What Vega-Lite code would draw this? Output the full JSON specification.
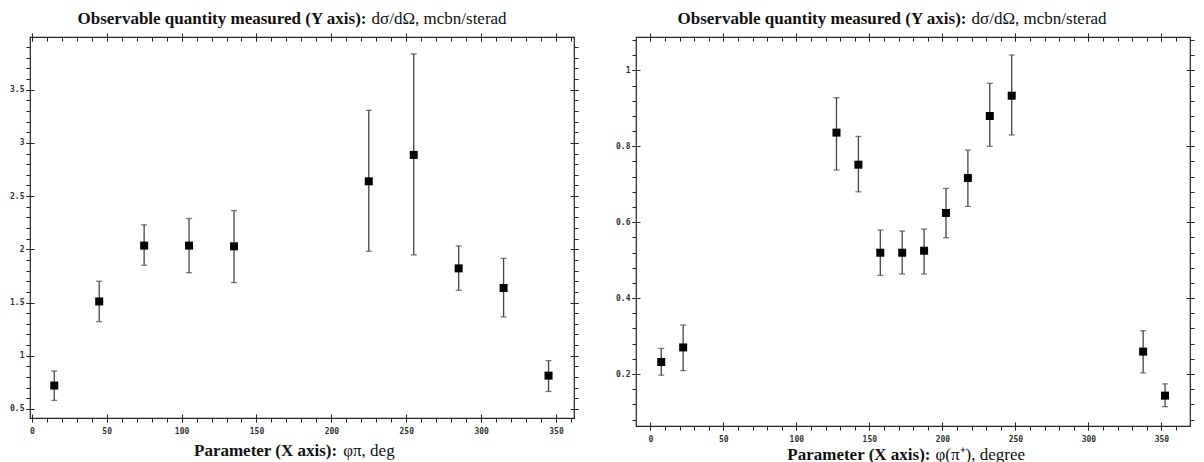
{
  "$schema": "https://vega.github.io/schema/vega-lite/v6.json",
  "padding": {"left": 8, "top": 8, "right": 5, "bottom": 0},
  "spacing": 34,
  "config": {
    "view": {"stroke": "#222", "strokeWidth": 1.2},
    "axis": {
      "grid": false,
      "domain": false,
      "labelFont": "DejaVu Sans Mono",
      "labelFontSize": 8,
      "labelFontWeight": "bold",
      "labelColor": "#333",
      "labelFlush": false,
      "labelOverlap": false,
      "tickColor": "#222",
      "tickWidth": 1,
      "titleFont": "Liberation Serif",
      "titleFontSize": 17,
      "titleColor": "#111"
    }
  },
  "hconcat": [
    {
      "width": 544,
      "height": 381,
      "data": {"values": [
        {"phi": 15, "ds": 0.72, "lo": 0.58, "hi": 0.857},
        {"phi": 45, "ds": 1.51, "lo": 1.32, "hi": 1.70},
        {"phi": 75, "ds": 2.035, "lo": 1.85, "hi": 2.23},
        {"phi": 105, "ds": 2.035, "lo": 1.78, "hi": 2.29},
        {"phi": 135, "ds": 2.028, "lo": 1.687, "hi": 2.364},
        {"phi": 225, "ds": 2.639, "lo": 1.981, "hi": 3.306},
        {"phi": 255, "ds": 2.887, "lo": 1.947, "hi": 3.836},
        {"phi": 285, "ds": 1.821, "lo": 1.615, "hi": 2.032},
        {"phi": 315, "ds": 1.637, "lo": 1.365, "hi": 1.915},
        {"phi": 345, "ds": 0.813, "lo": 0.664, "hi": 0.954}
      ]},
      "resolve": {"axis": {"x": "independent", "y": "independent"}},
      "layer": [
        {
          "mark": {"type": "rule", "color": "#444", "strokeWidth": 1.3},
          "encoding": {
            "x": {"field": "phi", "type": "quantitative",
              "scale": {"domain": [-1.2, 362], "nice": false, "zero": false},
              "axis": {"orient": "bottom", "values": [0, 50, 100, 150, 200, 250, 300, 350], "format": "d",
                "tickSize": 8, "offset": -4, "labelPadding": 5,
                "title": "Parameter (X axis):", "titleFontWeight": "bold", "titleAlign": "right",
                "titleBaseline": "alphabetic", "titleX": 306.7, "titleY": 41.7}},
            "y": {"field": "lo", "type": "quantitative",
              "scale": {"domain": [0.415, 3.995], "nice": false, "zero": false},
              "axis": {"orient": "left", "values": [0.5, 1, 1.5, 2, 2.5, 3, 3.5], "format": "~g",
                "tickSize": 8, "offset": -4, "labelPadding": 2, "title": null}},
            "y2": {"field": "hi"}
          }
        },
        {
          "mark": {"type": "tick", "orient": "horizontal", "color": "#444", "size": 6, "thickness": 1.3},
          "encoding": {
            "x": {"field": "phi", "type": "quantitative",
              "axis": {"orient": "bottom", "values": [0, 10, 20, 30, 40, 50, 60, 70, 80, 90, 100, 110, 120, 130, 140, 150, 160, 170, 180, 190, 200, 210, 220, 230, 240, 250, 260, 270, 280, 290, 300, 310, 320, 330, 340, 350, 360],
                "tickSize": 4, "labels": false,
                "title": "φπ, deg", "titleFontWeight": "normal", "titleAlign": "left",
                "titleBaseline": "alphabetic", "titleX": 312.7, "titleY": 37.7}},
            "y": {"field": "lo", "type": "quantitative",
              "axis": {"orient": "left", "values": [0.5, 0.6, 0.7, 0.8, 0.9, 1, 1.1, 1.2, 1.3, 1.4, 1.5, 1.6, 1.7, 1.8, 1.9, 2, 2.1, 2.2, 2.3, 2.4, 2.5, 2.6, 2.7, 2.8, 2.9, 3, 3.1, 3.2, 3.3, 3.4, 3.5, 3.6, 3.7, 3.8, 3.9],
                "tickSize": 4, "labels": false, "title": null}}
          }
        },
        {
          "mark": {"type": "tick", "orient": "horizontal", "color": "#444", "size": 6, "thickness": 1.3},
          "encoding": {
            "x": {"field": "phi", "type": "quantitative",
              "axis": {"orient": "top", "values": [0, 50, 100, 150, 200, 250, 300, 350],
                "tickSize": 8, "offset": -4, "labels": false,
                "title": "Observable quantity measured (Y axis):", "titleFontWeight": "bold", "titleAlign": "right",
                "titleBaseline": "alphabetic", "titleX": 336, "titleY": -17.8}},
            "y": {"field": "hi", "type": "quantitative",
              "axis": {"orient": "right", "values": [0.5, 1, 1.5, 2, 2.5, 3, 3.5],
                "tickSize": 8, "offset": -4, "labels": false, "title": null}}
          }
        },
        {
          "mark": {"type": "point", "shape": "square", "filled": true, "color": "#000", "size": 64, "opacity": 1},
          "encoding": {
            "x": {"field": "phi", "type": "quantitative",
              "axis": {"orient": "top", "values": [0, 10, 20, 30, 40, 50, 60, 70, 80, 90, 100, 110, 120, 130, 140, 150, 160, 170, 180, 190, 200, 210, 220, 230, 240, 250, 260, 270, 280, 290, 300, 310, 320, 330, 340, 350, 360],
                "tickSize": 4, "offset": -4, "labels": false,
                "title": "dσ/dΩ, mcbn/sterad", "titleFontWeight": "normal", "titleAlign": "left",
                "titleBaseline": "alphabetic", "titleX": 341, "titleY": -17.8}},
            "y": {"field": "ds", "type": "quantitative",
              "axis": {"orient": "right", "values": [0.5, 0.6, 0.7, 0.8, 0.9, 1, 1.1, 1.2, 1.3, 1.4, 1.5, 1.6, 1.7, 1.8, 1.9, 2, 2.1, 2.2, 2.3, 2.4, 2.5, 2.6, 2.7, 2.8, 2.9, 3, 3.1, 3.2, 3.3, 3.4, 3.5, 3.6, 3.7, 3.8, 3.9],
                "tickSize": 4, "labels": false, "title": null}}
          }
        }
      ]
    },
    {
      "width": 554,
      "height": 389,
      "data": {"values": [
        {"phi": 7.5, "ds": 0.2316, "lo": 0.197, "hi": 0.2675},
        {"phi": 22.5, "ds": 0.270, "lo": 0.209, "hi": 0.329},
        {"phi": 127.5, "ds": 0.836, "lo": 0.7376, "hi": 0.928},
        {"phi": 142.5, "ds": 0.7515, "lo": 0.680, "hi": 0.826},
        {"phi": 157.5, "ds": 0.5196, "lo": 0.4598, "hi": 0.5794},
        {"phi": 172.5, "ds": 0.5196, "lo": 0.4635, "hi": 0.5768},
        {"phi": 187.5, "ds": 0.5249, "lo": 0.4635, "hi": 0.582},
        {"phi": 202.5, "ds": 0.6242, "lo": 0.559, "hi": 0.689},
        {"phi": 217.5, "ds": 0.7164, "lo": 0.6417, "hi": 0.790},
        {"phi": 232.5, "ds": 0.8798, "lo": 0.7998, "hi": 0.9658},
        {"phi": 247.5, "ds": 0.9333, "lo": 0.8298, "hi": 1.0406},
        {"phi": 337.5, "ds": 0.259, "lo": 0.203, "hi": 0.314},
        {"phi": 352.5, "ds": 0.143, "lo": 0.114, "hi": 0.174}
      ]},
      "resolve": {"axis": {"x": "independent", "y": "independent"}},
      "layer": [
        {
          "mark": {"type": "rule", "color": "#444", "strokeWidth": 1.3},
          "encoding": {
            "x": {"field": "phi", "type": "quantitative",
              "scale": {"domain": [-9.8, 369.6], "nice": false, "zero": false},
              "axis": {"orient": "bottom", "values": [0, 50, 100, 150, 200, 250, 300, 350], "format": "d",
                "tickSize": 8, "offset": -4, "labelPadding": 5,
                "title": "Parameter (X axis):", "titleFontWeight": "bold", "titleAlign": "right",
                "titleBaseline": "alphabetic", "titleX": 294, "titleY": 37}},
            "y": {"field": "lo", "type": "quantitative",
              "scale": {"domain": [0.063, 1.088], "nice": false, "zero": false},
              "axis": {"orient": "left", "values": [0.2, 0.4, 0.6, 0.8, 1], "format": "~g",
                "tickSize": 8, "offset": -4, "labelPadding": 2, "title": null}},
            "y2": {"field": "hi"}
          }
        },
        {
          "mark": {"type": "tick", "orient": "horizontal", "color": "#444", "size": 6, "thickness": 1.3},
          "encoding": {
            "x": {"field": "phi", "type": "quantitative",
              "axis": {"orient": "bottom", "values": [0, 10, 20, 30, 40, 50, 60, 70, 80, 90, 100, 110, 120, 130, 140, 150, 160, 170, 180, 190, 200, 210, 220, 230, 240, 250, 260, 270, 280, 290, 300, 310, 320, 330, 340, 350, 360],
                "tickSize": 4, "labels": false,
                "title": "φ(π⁺), degree", "titleFontWeight": "normal", "titleAlign": "left",
                "titleBaseline": "alphabetic", "titleX": 299, "titleY": 33}},
            "y": {"field": "lo", "type": "quantitative",
              "axis": {"orient": "left", "values": [0.08, 0.12, 0.16, 0.2, 0.24, 0.28, 0.32, 0.36, 0.4, 0.44, 0.48, 0.52, 0.56, 0.6, 0.64, 0.68, 0.72, 0.76, 0.8, 0.84, 0.88, 0.92, 0.96, 1, 1.04, 1.08],
                "tickSize": 4, "labels": false, "title": null}}
          }
        },
        {
          "mark": {"type": "tick", "orient": "horizontal", "color": "#444", "size": 6, "thickness": 1.3},
          "encoding": {
            "x": {"field": "phi", "type": "quantitative",
              "axis": {"orient": "top", "values": [0, 50, 100, 150, 200, 250, 300, 350],
                "tickSize": 8, "offset": -4, "labels": false,
                "title": "Observable quantity measured (Y axis):", "titleFontWeight": "bold", "titleAlign": "right",
                "titleBaseline": "alphabetic", "titleX": 330, "titleY": -17.8}},
            "y": {"field": "hi", "type": "quantitative",
              "axis": {"orient": "right", "values": [0.2, 0.4, 0.6, 0.8, 1],
                "tickSize": 8, "offset": -4, "labels": false, "title": null}}
          }
        },
        {
          "mark": {"type": "point", "shape": "square", "filled": true, "color": "#000", "size": 64, "opacity": 1},
          "encoding": {
            "x": {"field": "phi", "type": "quantitative",
              "axis": {"orient": "top", "values": [0, 10, 20, 30, 40, 50, 60, 70, 80, 90, 100, 110, 120, 130, 140, 150, 160, 170, 180, 190, 200, 210, 220, 230, 240, 250, 260, 270, 280, 290, 300, 310, 320, 330, 340, 350, 360],
                "tickSize": 4, "offset": -4, "labels": false,
                "title": "dσ/dΩ, mcbn/sterad", "titleFontWeight": "normal", "titleAlign": "left",
                "titleBaseline": "alphabetic", "titleX": 335, "titleY": -17.8}},
            "y": {"field": "ds", "type": "quantitative",
              "axis": {"orient": "right", "values": [0.08, 0.12, 0.16, 0.2, 0.24, 0.28, 0.32, 0.36, 0.4, 0.44, 0.48, 0.52, 0.56, 0.6, 0.64, 0.68, 0.72, 0.76, 0.8, 0.84, 0.88, 0.92, 0.96, 1, 1.04, 1.08],
                "tickSize": 4, "labels": false, "title": null}}
          }
        }
      ]
    }
  ]
}
